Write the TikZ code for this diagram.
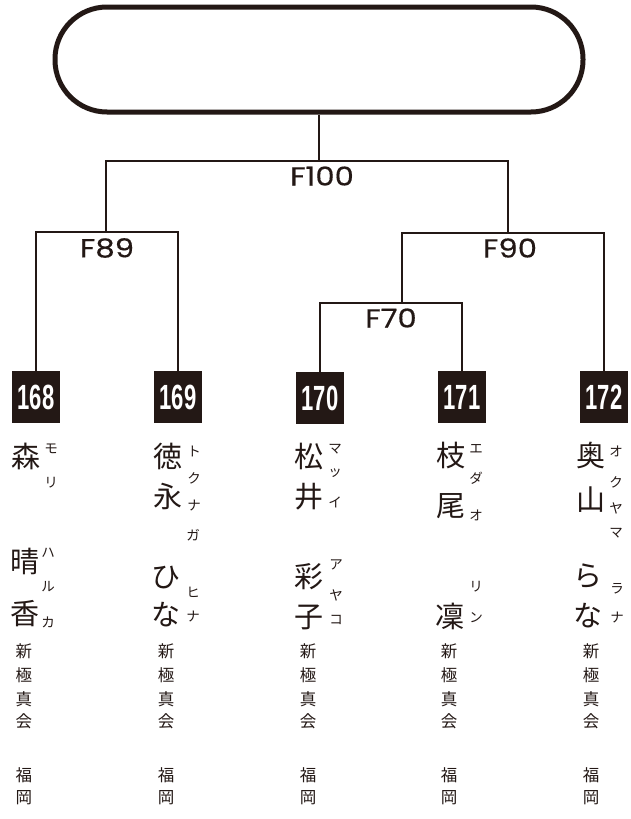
\documentclass[tikz,border=0pt]{standalone}
\usepackage{fontspec}
\newfontfamily\cjk{Noto Sans CJK JP}
\newfontfamily\numfont{Liberation Sans}[FakeStretch=0.63]
\newfontfamily\flab{Poppins}[FakeStretch=1.18,FakeBold=0.4]
\definecolor{ink}{HTML}{231815}
\tikzset{
  br/.style={draw=ink, line width=1.5pt},
  numbox/.style={fill=ink, text=white, minimum width=48pt, minimum height=52pt, inner sep=0pt, font=\numfont\bfseries\fontsize{35}{35}\selectfont},
  flabel/.style={inner sep=0pt, text=ink, font=\flab\fontsize{26}{26}\selectfont},
  big/.style={inner sep=0pt, text=ink, font=\cjk\fontsize{29}{29}\selectfont},
  ruby/.style={inner sep=0pt, text=ink, font=\cjk\fontsize{13.5}{13.5}\selectfont},
  org/.style={inner sep=0pt, text=ink, font=\cjk\fontsize{16.5}{16.5}\selectfont},
}
\begin{document}
\begin{tikzpicture}[x=1pt,y=-1pt]
\useasboundingbox[fill=white] (0,0) rectangle (630,819);
% top box
\node[draw=ink, line width=5pt, rounded corners=52pt, minimum width=528pt, minimum height=105pt, inner sep=0pt] (top) at (319,59.5) {};
% number boxes
\node[numbox] (n168) at (36,397) {168};
\node[numbox] (n169) at (178,397) {169};
\node[numbox] (n170) at (320,398) {170};
\node[numbox] (n171) at (462,397) {171};
\node[numbox] (n172) at (604,397) {172};
% junctions
\coordinate (c100) at (319,161);
\coordinate (c89) at (106,232);
\coordinate (c90) at (508,233);
\coordinate (c70) at (402,303);
% connectors
\draw[br] (top.south) -- (c100);
\draw[br] (c89) |- (c100) -| (c90);
\draw[br] (n168.north) |- (c89) -| (n169.north);
\draw[br] (c70) |- (c90) -| (n172.north);
\draw[br] (n170.north) |- (c70) -| (n171.north);
% labels
\node[flabel] (l100) at (322,176) {F100};
\node[flabel] (l89) at (107,248) {F89};
\node[flabel] (l90) at (510,248) {F90};
\node[flabel] (l70) at (391,318) {F70};
% names (large)
\foreach \t/\x/\y [count=\i] in {森/26/456, 晴/25/561, 香/25/614,
  徳/168/456, 永/168/496, ひ/166/578, な/166/615,
  松/309/457, 井/309/497, 彩/309/577, 子/309/617,
  枝/451/456, 尾/451/506, 凜/450/616,
  奥/591/455, 山/591/500, ら/588/576, な/588/616}
  \node[big] (b\i) at (\x,\y) {\t};
% readings
\foreach \t/\x/\y [count=\i] in {モ/51/449, リ/51/483, ハ/48/553, ル/48/587, カ/48/622,
  ト/194/451, ク/194/478, ナ/194/506, ガ/193/535, ヒ/193/592, ナ/193/617,
  マ/335/449, ッ/335/473, イ/335/502, ア/336/565, ヤ/336/595, コ/336/620,
  エ/476/449, ダ/476/478, オ/476/515, リ/476/587, ン/476/618,
  オ/616/451, ク/616/482, ヤ/616/508, マ/616/533, ラ/617/589, ナ/617/618}
  \node[ruby] (r\i) at (\x,\y) {\t};
% club and place
\foreach \x [count=\j] in {24,166,308,449,591}{
  \foreach \t/\y [count=\i] in {新/651, 極/675, 真/699, 会/721, 福/775, 岡/798}
    \node[org] (o\j-\i) at (\x,\y) {\t};
}
\end{tikzpicture}
\end{document}
